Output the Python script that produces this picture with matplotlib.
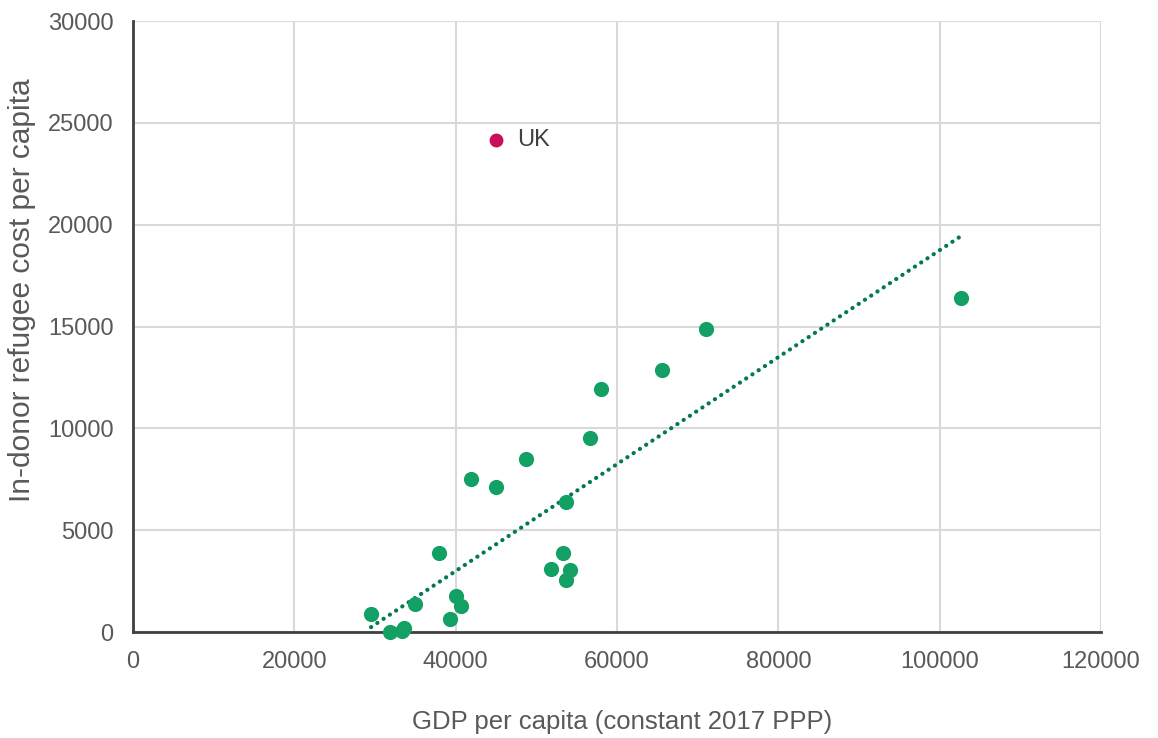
import matplotlib.pyplot as plt
import numpy as np

plt.rcParams['font.family'] = ['Liberation Sans', 'DejaVu Sans']

# GDP per capita (constant 2017 PPP) vs in-donor refugee cost per capita
gdp = [29500, 31900, 33600, 33400, 34900, 37900, 39300, 40000, 40700, 41900,
       45000, 48700, 51800, 53300, 53700, 53700, 54200, 56700, 58000, 65600,
       71000, 102700]
cost = [880, 0, 200, 40, 1370, 3880, 640, 1750, 1300, 7510,
        7130, 8490, 3110, 3880, 6400, 2540, 3040, 9510, 11930, 12870,
        14880, 16400]
uk_gdp = 45000
uk_cost = 24150

green = '#13a064'
pink = '#c8105a'
trend_col = '#037a4e'
text_col = '#595959'

fig = plt.figure(figsize=(11.58, 7.38), dpi=100)
ax = fig.add_axes([0.1149, 0.1436, 0.8359, 0.8279])

ax.set_xlim(0, 120000)
ax.set_ylim(0, 30000)
ax.set_xticks(np.arange(0, 120001, 20000))
ax.set_yticks(np.arange(0, 30001, 5000))
ax.grid(True, color='#d9d9d9', linewidth=1.5)
ax.set_axisbelow(True)

for s in ['top', 'right']:
    ax.spines[s].set_visible(False)
for s in ['left', 'bottom']:
    ax.spines[s].set_color('#404040')
    ax.spines[s].set_linewidth(2)
    ax.spines[s].set_zorder(3)

# trendline over the data range (UK excluded)
k, b = np.polyfit(gdp, cost, 1)
xs = np.array([min(gdp), max(gdp)])
ax.plot(xs, k * xs + b, color=trend_col, linestyle=(0, (0.05, 1.75)),
        linewidth=3, dash_capstyle='round', zorder=2)

ax.scatter(gdp, cost, s=120, color=green, zorder=4, linewidths=0, clip_on=False)
ax.scatter([uk_gdp], [uk_cost], s=100, color=pink, zorder=4, linewidths=0)
ax.annotate('UK', (uk_gdp, uk_cost), xytext=(15, 0), textcoords='offset points',
            va='center', ha='left', fontsize=17, color='#404040')

ax.tick_params(length=0, labelsize=17, labelcolor=text_col)
ax.tick_params(axis='x', pad=14)
ax.tick_params(axis='y', pad=14)

ax.set_xlabel('GDP per capita (constant 2017 PPP)', fontsize=18.5, color=text_col,
              va='center')
ax.set_ylabel('In-donor refugee cost per capita', fontsize=21.5, color=text_col,
              va='center')
ax.xaxis.set_label_coords(0.505, -0.147)
ax.yaxis.set_label_coords(-0.1147, 0.56)

fig.savefig('out.png', dpi=100)
